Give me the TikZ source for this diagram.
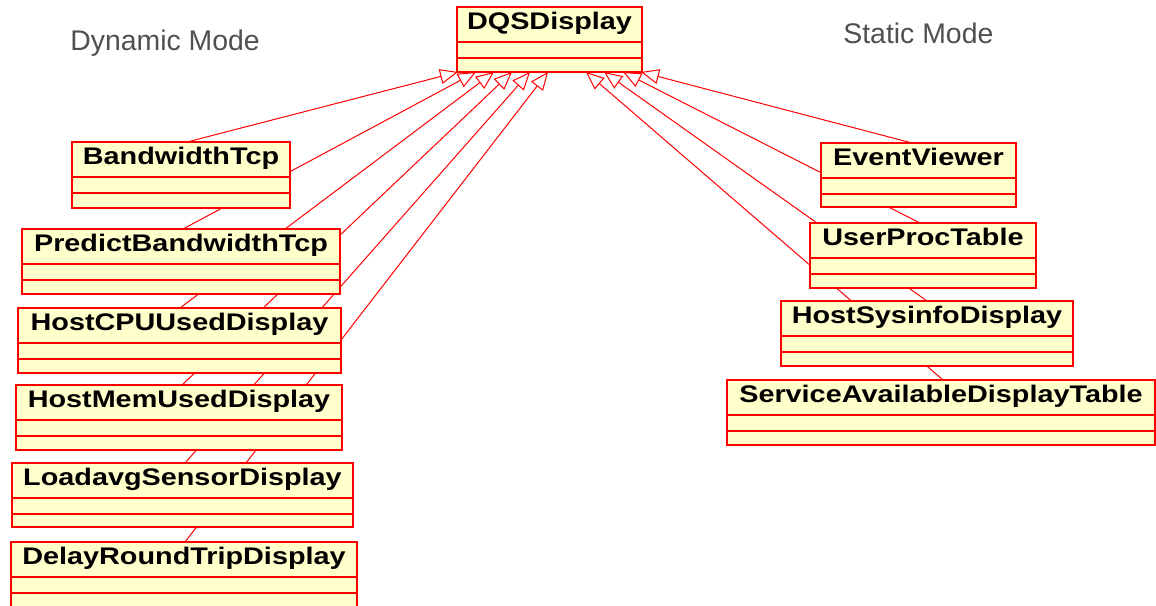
\documentclass[tikz,border=0pt]{standalone}
\usepackage{fontspec}
\setmainfont{Liberation Sans}
\newfontfamily\titlefont{Liberation Sans}[FakeStretch=1.2]
\usetikzlibrary{calc,arrows.meta,backgrounds}
\definecolor{umlred}{RGB}{255,0,0}
\definecolor{umlfill}{RGB}{255,255,204}
\definecolor{modegray}{RGB}{80,80,80}
\tikzset{
  cbox/.style={draw=umlred, fill=umlfill, line width=0.9pt, inner sep=0pt, outer sep=0pt},
  ctitle/.style={font=\titlefont\bfseries\fontsize{12pt}{14pt}\selectfont, text=black, inner sep=0pt},
  csep/.style={draw=umlred, line width=0.9pt},
  inherit/.style={draw=umlred, line width=0.5pt, -{Triangle[open, length=9pt, width=7.5pt]}},
  modelabel/.style={font=\fontsize{14.2pt}{16pt}\selectfont, text=modegray, inner sep=0pt, anchor=base west},
}
% #1 name, #2 left x, #3 top y, #4 width, #5 height, #6 title
\newcommand\classbox[6]{%
  \node[cbox, anchor=north west, minimum width=#4*0.5pt, minimum height=#5*0.5pt] (#1) at (#2,#3) {};
  \node[ctitle, anchor=base] (#1-t) at ($(#1.north)+(0,22)$) {#6};
  \draw[csep] ($(#1.north west)+(0,35)$) -- ($(#1.north east)+(0,35)$);
  \draw[csep] ($(#1.north west)+(0,51)$) -- ($(#1.north east)+(0,51)$);
}
\begin{document}
\begin{tikzpicture}[x=0.5pt,y=-0.5pt]
\useasboundingbox (0,0) rectangle (1156,605);

% mode labels
\node[modelabel] (dyn) at (70,50) {Dynamic Mode};
\node[modelabel] (stat) at (843,43) {Static Mode};

% superclass
\classbox{dqs}{457}{7}{185}{65}{DQSDisplay}

% dynamic mode classes
\classbox{bt}{72}{142}{218}{66}{BandwidthTcp}
\classbox{pbt}{22}{229}{318}{65}{PredictBandwidthTcp}
\classbox{hcpu}{18}{308}{323}{65}{HostCPUUsedDisplay}
\classbox{hmem}{16}{385}{326}{65}{HostMemUsedDisplay}
\classbox{load}{12}{463}{341}{64}{LoadavgSensorDisplay}
\classbox{delay}{11}{542}{346}{66}{DelayRoundTripDisplay}

% static mode classes
\classbox{ev}{821}{143}{195}{64}{EventViewer}
\classbox{upt}{810}{223}{226}{65}{UserProcTable}
\classbox{hsi}{781}{301}{292}{65}{HostSysinfoDisplay}
\classbox{sadt}{727}{380}{428}{65}{ServiceAvailableDisplayTable}

\begin{pgfonlayer}{background}
\fill[white] (0,0) rectangle (1156,605);
% generalizations, dynamic side
\draw[inherit] ($(bt.north west)+(115,0)$)    -- ($(dqs.south west)+(1,0)$);
\draw[inherit] ($(pbt.north west)+(161,0)$)   -- ($(dqs.south west)+(19,0)$);
\draw[inherit] ($(hcpu.north west)+(162,0)$)  -- ($(dqs.south west)+(37,0)$);
\draw[inherit] ($(hmem.north west)+(166,0)$)  -- ($(dqs.south west)+(55,0)$);
\draw[inherit] ($(load.north west)+(173,0)$)  -- ($(dqs.south west)+(73,0)$);
\draw[inherit] ($(delay.north west)+(174,0)$) -- ($(dqs.south west)+(91,0)$);
% generalizations, static side
\draw[inherit] ($(ev.north west)+(91,0)$)     -- ($(dqs.south west)+(184,0)$);
\draw[inherit] ($(upt.north west)+(110,0)$)   -- ($(dqs.south west)+(166,0)$);
\draw[inherit] ($(hsi.north west)+(146,0)$)   -- ($(dqs.south west)+(147,0)$);
\draw[inherit] ($(sadt.north west)+(216,0)$)  -- ($(dqs.south west)+(129,0)$);
\end{pgfonlayer}
\end{tikzpicture}
\end{document}
